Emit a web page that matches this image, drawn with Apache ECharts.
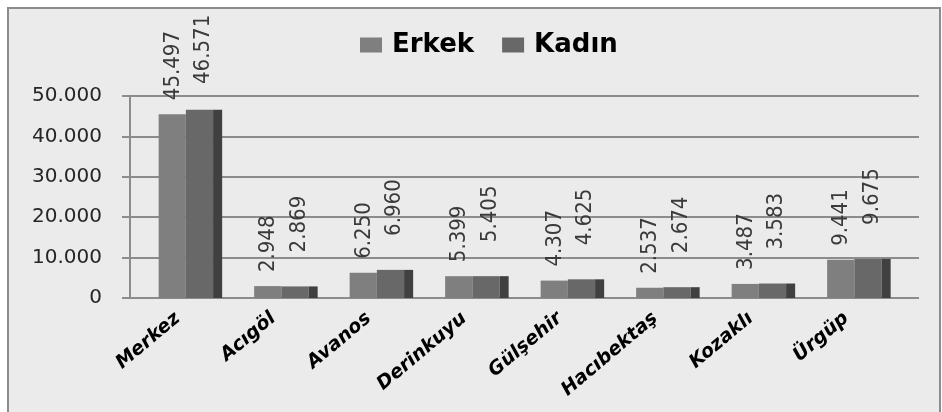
<!DOCTYPE html>
<html lang="tr">

<head>
    <meta charset="UTF-8" />
    <title>Erkek / Kadın</title>
    <script src="https://cdn.jsdelivr.net/npm/echarts@6/dist/echarts.min.js"></script>
    <style>
        body { margin: 0; background: #ffffff; overflow: hidden; }
        #frame {
            position: absolute; left: 7px; top: 7px; width: 930px; height: 403px;
            background: #ebebeb; border: 2px solid #8c8c8c; border-bottom: none;
        }
        #main { position: absolute; left: 0; top: 0; width: 942px; height: 412px; }
    </style>
</head>

<body>
    <div id="frame"></div>
    <div id="main"></div>
    <script type="text/javascript">
        // data
        const categories = ["Merkez", "Acıgöl", "Avanos", "Derinkuyu", "Gülşehir", "Hacıbektaş", "Kozaklı", "Ürgüp"];
        const erkek = [45497, 2948, 6250, 5399, 4307, 2537, 3487, 9441];
        const kadin = [46571, 2869, 6960, 5405, 4625, 2674, 3583, 9675];
        const yTicks = [0, 10000, 20000, 30000, 40000, 50000];

        const yMax = yTicks[yTicks.length - 1];
        const yStep = yTicks[1] - yTicks[0];

        // 45497 -> "45.497"
        function fmt(v) {
            return String(v).replace(/\B(?=(\d{3})+(?!\d))/g, ".");
        }

        const labelFont = '22px "DejaVu Sans Condensed", "Liberation Sans Narrow", "DejaVu Sans", sans-serif';
        const labelColor = "#3a3a3a";
        const labelCeil = 84; // keep the tall labels inside the chart box

        function vLabel(x, y, v) {
            return {
                type: "text", x: x, y: Math.max(y, labelCeil), rotation: Math.PI / 2, z2: 10,
                style: { text: fmt(v), font: labelFont, fill: labelColor, align: "left", verticalAlign: "middle" }
            };
        }

        // front column of the "men" series, pushed left of category centre
        function renderErkek(params, api) {
            const i = api.value(0), v = api.value(1);
            const base = api.coord([i, 0]);
            const top = api.coord([i, v]);
            const bw = api.size([1, 0])[0];
            const x = base[0] - bw * 0.2;
            const w = bw * 0.285;
            return {
                type: "group",
                children: [
                    { type: "rect", shape: { x: x, y: top[1], width: w, height: base[1] - top[1] }, style: { fill: "#7f7f7f" } },
                    vLabel(x + w / 2 + 1, top[1] - 14, v)
                ]
            };
        }

        // "women" column with a darker side face for the 3d look
        function renderKadin(params, api) {
            const i = api.value(0), v = api.value(1);
            const base = api.coord([i, 0]);
            const top = api.coord([i, v]);
            const bw = api.size([1, 0])[0];
            const x = base[0] + bw * 0.085;
            const w = bw * 0.285;
            const side = bw * 0.095;
            return {
                type: "group",
                children: [
                    { type: "rect", shape: { x: x, y: top[1], width: w, height: base[1] - top[1] }, style: { fill: "#686868" } },
                    { type: "rect", shape: { x: x + w, y: top[1], width: side, height: base[1] - top[1] }, style: { fill: "#404040" } },
                    vLabel(x + w / 2 + 4, top[1] - 34, v)
                ]
            };
        }

        const gridLine = { show: true, lineStyle: { color: "#8c8c8c", width: 2 } };

        let options = {
            backgroundColor: "transparent",
            animation: false,
            textStyle: { fontFamily: "DejaVu Sans" },
            legend: {
                data: ["Erkek", "Kadın"],
                left: 355, top: 27,
                icon: "rect", itemWidth: 22, itemHeight: 15, itemGap: 28,
                textStyle: { fontSize: 26, fontWeight: "bold", color: "#000", fontFamily: "DejaVu Sans", padding: [0, 0, 0, 5] }
            },
            grid: [
                { left: 130, right: 48, top: 96, bottom: 114 },
                // wider grid only for the gridlines that run past the last category
                { left: 130, right: 23, top: 96, bottom: 114 }
            ],
            xAxis: [
                {
                    type: "category", data: categories, gridIndex: 0,
                    axisLine: { lineStyle: { color: "#8c8c8c", width: 2 } },
                    axisTick: { length: 6, lineStyle: { color: "#8c8c8c", width: 2 } },
                    axisLabel: {
                        rotate: 40, margin: 18, interval: 0, color: "#000",
                        fontSize: 19, fontWeight: "bold", fontStyle: "italic", fontFamily: "DejaVu Sans"
                    }
                },
                { type: "value", gridIndex: 1, show: false, min: 0, max: 1 }
            ],
            yAxis: [
                {
                    type: "value", gridIndex: 0, min: 0, max: yMax, interval: yStep,
                    axisLine: { show: true, lineStyle: { color: "#8c8c8c", width: 2 } },
                    axisTick: { show: true, length: 8, lineStyle: { color: "#8c8c8c", width: 2 } },
                    axisLabel: { margin: 28, fontSize: 20, color: "#262626", fontFamily: "DejaVu Sans", formatter: fmt },
                    splitLine: { show: false }
                },
                {
                    type: "value", gridIndex: 1, min: 0, max: yMax, interval: yStep,
                    axisLine: { show: false }, axisTick: { show: false }, axisLabel: { show: false },
                    splitLine: gridLine
                }
            ],
            series: [
                {
                    name: "Erkek", type: "custom", xAxisIndex: 0, yAxisIndex: 0,
                    itemStyle: { color: "#7f7f7f" },
                    renderItem: renderErkek,
                    encode: { x: 0, y: 1 },
                    data: erkek.map((v, i) => [i, v])
                },
                {
                    name: "Kadın", type: "custom", xAxisIndex: 0, yAxisIndex: 0,
                    itemStyle: { color: "#686868" },
                    renderItem: renderKadin,
                    encode: { x: 0, y: 1 },
                    data: kadin.map((v, i) => [i, v])
                }
            ]
        };

        let myChart = echarts.init(document.getElementById("main"));
        myChart.setOption(options);
    </script>
</body>

</html>
